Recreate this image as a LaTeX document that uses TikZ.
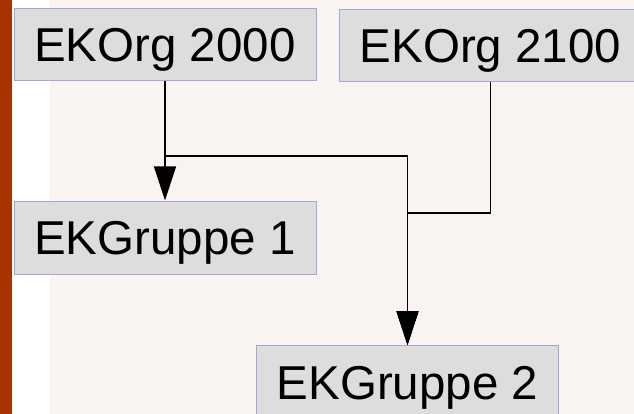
\documentclass[tikz,border=0pt]{standalone}
\usepackage{fontspec}
\setmainfont{Liberation Sans}
\usetikzlibrary{arrows.meta}
\definecolor{barred}{RGB}{168,50,0}
\definecolor{bgc}{RGB}{249,244,241}
\definecolor{boxfill}{RGB}{221,221,221}
\definecolor{boxline}{RGB}{165,165,215}
\begin{document}
\begin{tikzpicture}[x=1pt,y=-1pt,
  box/.style={draw=boxline,fill=boxfill,line width=1pt,minimum width=302pt,minimum height=72pt,inner sep=0pt,text height=34pt,text depth=0pt,font=\fontsize{47.5}{50}\selectfont},
  conn/.style={line width=1.2pt,black},
  arr/.style={conn,-{Triangle[width=22pt,length=34pt]}}]
\useasboundingbox (0,0) rectangle (634,414);
\clip (0,0) rectangle (634,414);
\fill[bgc] (0,0) rectangle (634,414);
\fill[white] (12,0) rectangle (50,414);
\fill[barred] (0,0) rectangle (12,414);
\node[box] (o1) at (165,45) {EKOrg 2000};
\node[box] (o2) at (490.5,45.5) {EKOrg 2100};
\node[box,minimum height=73pt] (g1) at (165,237.5) {EKGruppe 1};
\node[box,minimum height=73pt] (g2) at (407.5,382.2) {EKGruppe 2};
\coordinate (j1) at (407.5,156);
\coordinate (j2) at (407.5,213);
\draw[arr] (o1.south) -- (g1.north);
\draw[arr] (o1.south) |- (j1) -- (g2.north);
\draw[arr] (o2.south) |- (j2) -- (g2.north);
\end{tikzpicture}
\end{document}
